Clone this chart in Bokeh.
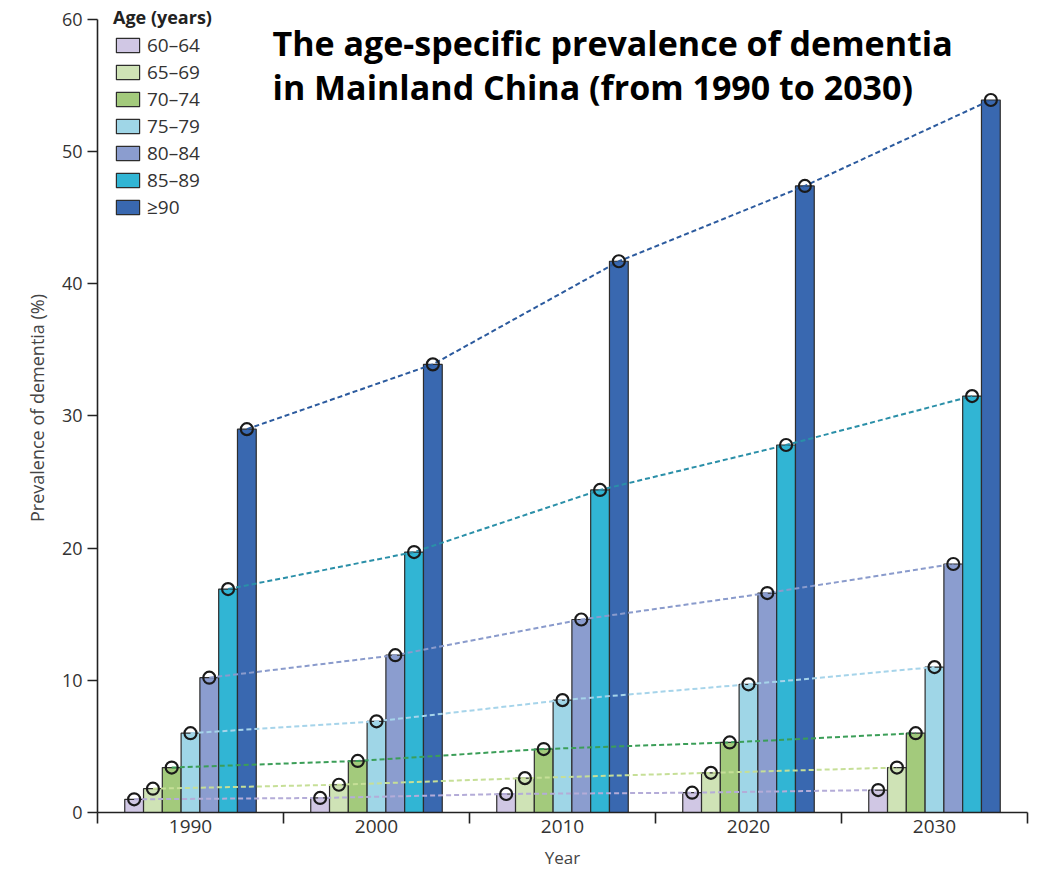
from bokeh.plotting import figure
from bokeh.models import Range1d, FixedTicker, Legend, LegendItem, Label, ColumnDataSource
from bokeh.transform import dodge
from bokeh.embed import file_html
from bokeh.resources import INLINE

# ---- data ----
years = [1990, 2000, 2010, 2020, 2030]
age_groups = ["60–64", "65–69", "70–74", "75–79", "80–84", "85–89", "≥90"]
prev_60_64 = [1.0, 1.1, 1.4, 1.5, 1.7]
prev_65_69 = [1.8, 2.1, 2.6, 3.0, 3.4]
prev_70_74 = [3.4, 3.9, 4.8, 5.3, 6.0]
prev_75_79 = [6.0, 6.9, 8.5, 9.7, 11.0]
prev_80_84 = [10.2, 11.9, 14.6, 16.6, 18.8]
prev_85_89 = [16.9, 19.7, 24.4, 27.8, 31.5]
prev_90 = [29.0, 33.9, 41.7, 47.4, 53.9]
series = [prev_60_64, prev_65_69, prev_70_74, prev_75_79, prev_80_84, prev_85_89, prev_90]

bar_colors = ["#d0c7e4", "#cfe3b6", "#a3ca7c", "#9fd6e7", "#8b9dcf", "#31b5d4", "#3968b0"]
line_colors = ["#b4acd8", "#c6df97", "#3b9e58", "#a6d4ea", "#8a9bcc", "#2a8fa8", "#2b5a9e"]

y_ticks = [0, 10, 20, 30, 40, 50, 60]
group_edges = [1985, 1995, 2005, 2015, 2025, 2035]

FONT = "Open Sans"

p = figure(width=1036, height=871, x_range=Range1d(1985, 2035), y_range=Range1d(0, 61.2),
           output_backend="svg", toolbar_location=None,
           min_border_left=97, min_border_right=9, min_border_top=3, min_border_bottom=58)
p.outline_line_color = None
p.xgrid.grid_line_color = None
p.ygrid.grid_line_color = None
p.background_fill_color = "white"
p.border_fill_color = "white"

src = ColumnDataSource(dict(year=years, **{f"s{i}": s for i, s in enumerate(series)}))

bw = 1.01
bar_renderers = []
for i, (name, col) in enumerate(zip(age_groups, bar_colors)):
    off = (i - 3) * bw
    r = p.vbar(x=dodge("year", off, range=p.x_range), top=f"s{i}", width=bw, bottom=0,
               source=src, fill_color=col, line_color="#2d2d2d", line_width=1.2)
    bar_renderers.append(r)

for i, lc in enumerate(line_colors):
    off = (i - 3) * bw
    p.line(x=dodge("year", off, range=p.x_range), y=f"s{i}", source=src,
           line_color=lc, line_width=2, line_dash="5 3")

for i in range(len(series)):
    off = (i - 3) * bw
    p.scatter(x=dodge("year", off, range=p.x_range), y=f"s{i}", source=src, size=12,
              marker="circle", fill_alpha=0, line_color="#1a1a1a", line_width=2.2)

# axes
xa = p.xaxis[0]
xa.ticker = FixedTicker(ticks=years, minor_ticks=group_edges)
xa.major_tick_line_color = None
xa.major_tick_out = 0
xa.major_tick_in = 0
xa.minor_tick_out = 11
xa.minor_tick_in = 0
xa.minor_tick_line_color = "#222222"
xa.minor_tick_line_width = 1.6
xa.axis_line_color = "#222222"
xa.axis_line_width = 1.6
xa.major_label_standoff = -4
xa.major_label_text_font = FONT
xa.major_label_text_font_size = "19px"
xa.major_label_text_color = "#333333"
xa.axis_label = "Year"
xa.axis_label_text_font = FONT
xa.axis_label_text_font_style = "normal"
xa.axis_label_text_font_size = "17px"
xa.axis_label_text_color = "#444444"
xa.axis_label_standoff = 10

ya = p.yaxis[0]
ya.bounds = (0, 60)
ya.ticker = FixedTicker(ticks=y_ticks)
ya.major_tick_out = 10
ya.major_tick_in = 0
ya.minor_tick_line_color = None
ya.major_tick_line_color = "#222222"
ya.major_tick_line_width = 1.6
ya.axis_line_color = "#222222"
ya.axis_line_width = 1.6
ya.major_label_standoff = 5
ya.major_label_text_font = FONT
ya.major_label_text_font_size = "18px"
ya.major_label_text_color = "#333333"
ya.axis_label = "Prevalence of dementia (%)"
ya.axis_label_text_font = FONT
ya.axis_label_text_font_style = "normal"
ya.axis_label_text_font_size = "18px"
ya.axis_label_text_color = "#444444"
ya.axis_label_standoff = 10

# chart title
p.add_layout(Label(x=175, y=770, x_units="screen", y_units="screen",
                   text="The age-specific prevalence of dementia", text_align="left",
                   text_baseline="alphabetic", text_font=FONT, text_font_style="bold",
                   text_font_size="34px", text_color="black"))
p.add_layout(Label(x=175, y=726, x_units="screen", y_units="screen",
                   text="in Mainland China (from 1990 to 2030)", text_align="left",
                   text_baseline="alphabetic", text_font=FONT, text_font_style="bold",
                   text_font_size="34px", text_color="black"))

legend = Legend(items=[LegendItem(label=n, renderers=[r]) for n, r in zip(age_groups, bar_renderers)],
                location=(16, 592), orientation="vertical",
                title="Age (years)", title_text_font=FONT, title_text_font_style="bold",
                title_text_font_size="18px", title_text_color="#222222", title_standoff=3,
                label_text_font=FONT, label_text_font_size="19px", label_text_color="#333333",
                glyph_width=29, glyph_height=18, label_height=20, label_standoff=5,
                spacing=1, padding=0, margin=0,
                border_line_color=None, background_fill_alpha=0)
p.add_layout(legend)

open("out.html", "w").write(file_html(p, INLINE))
